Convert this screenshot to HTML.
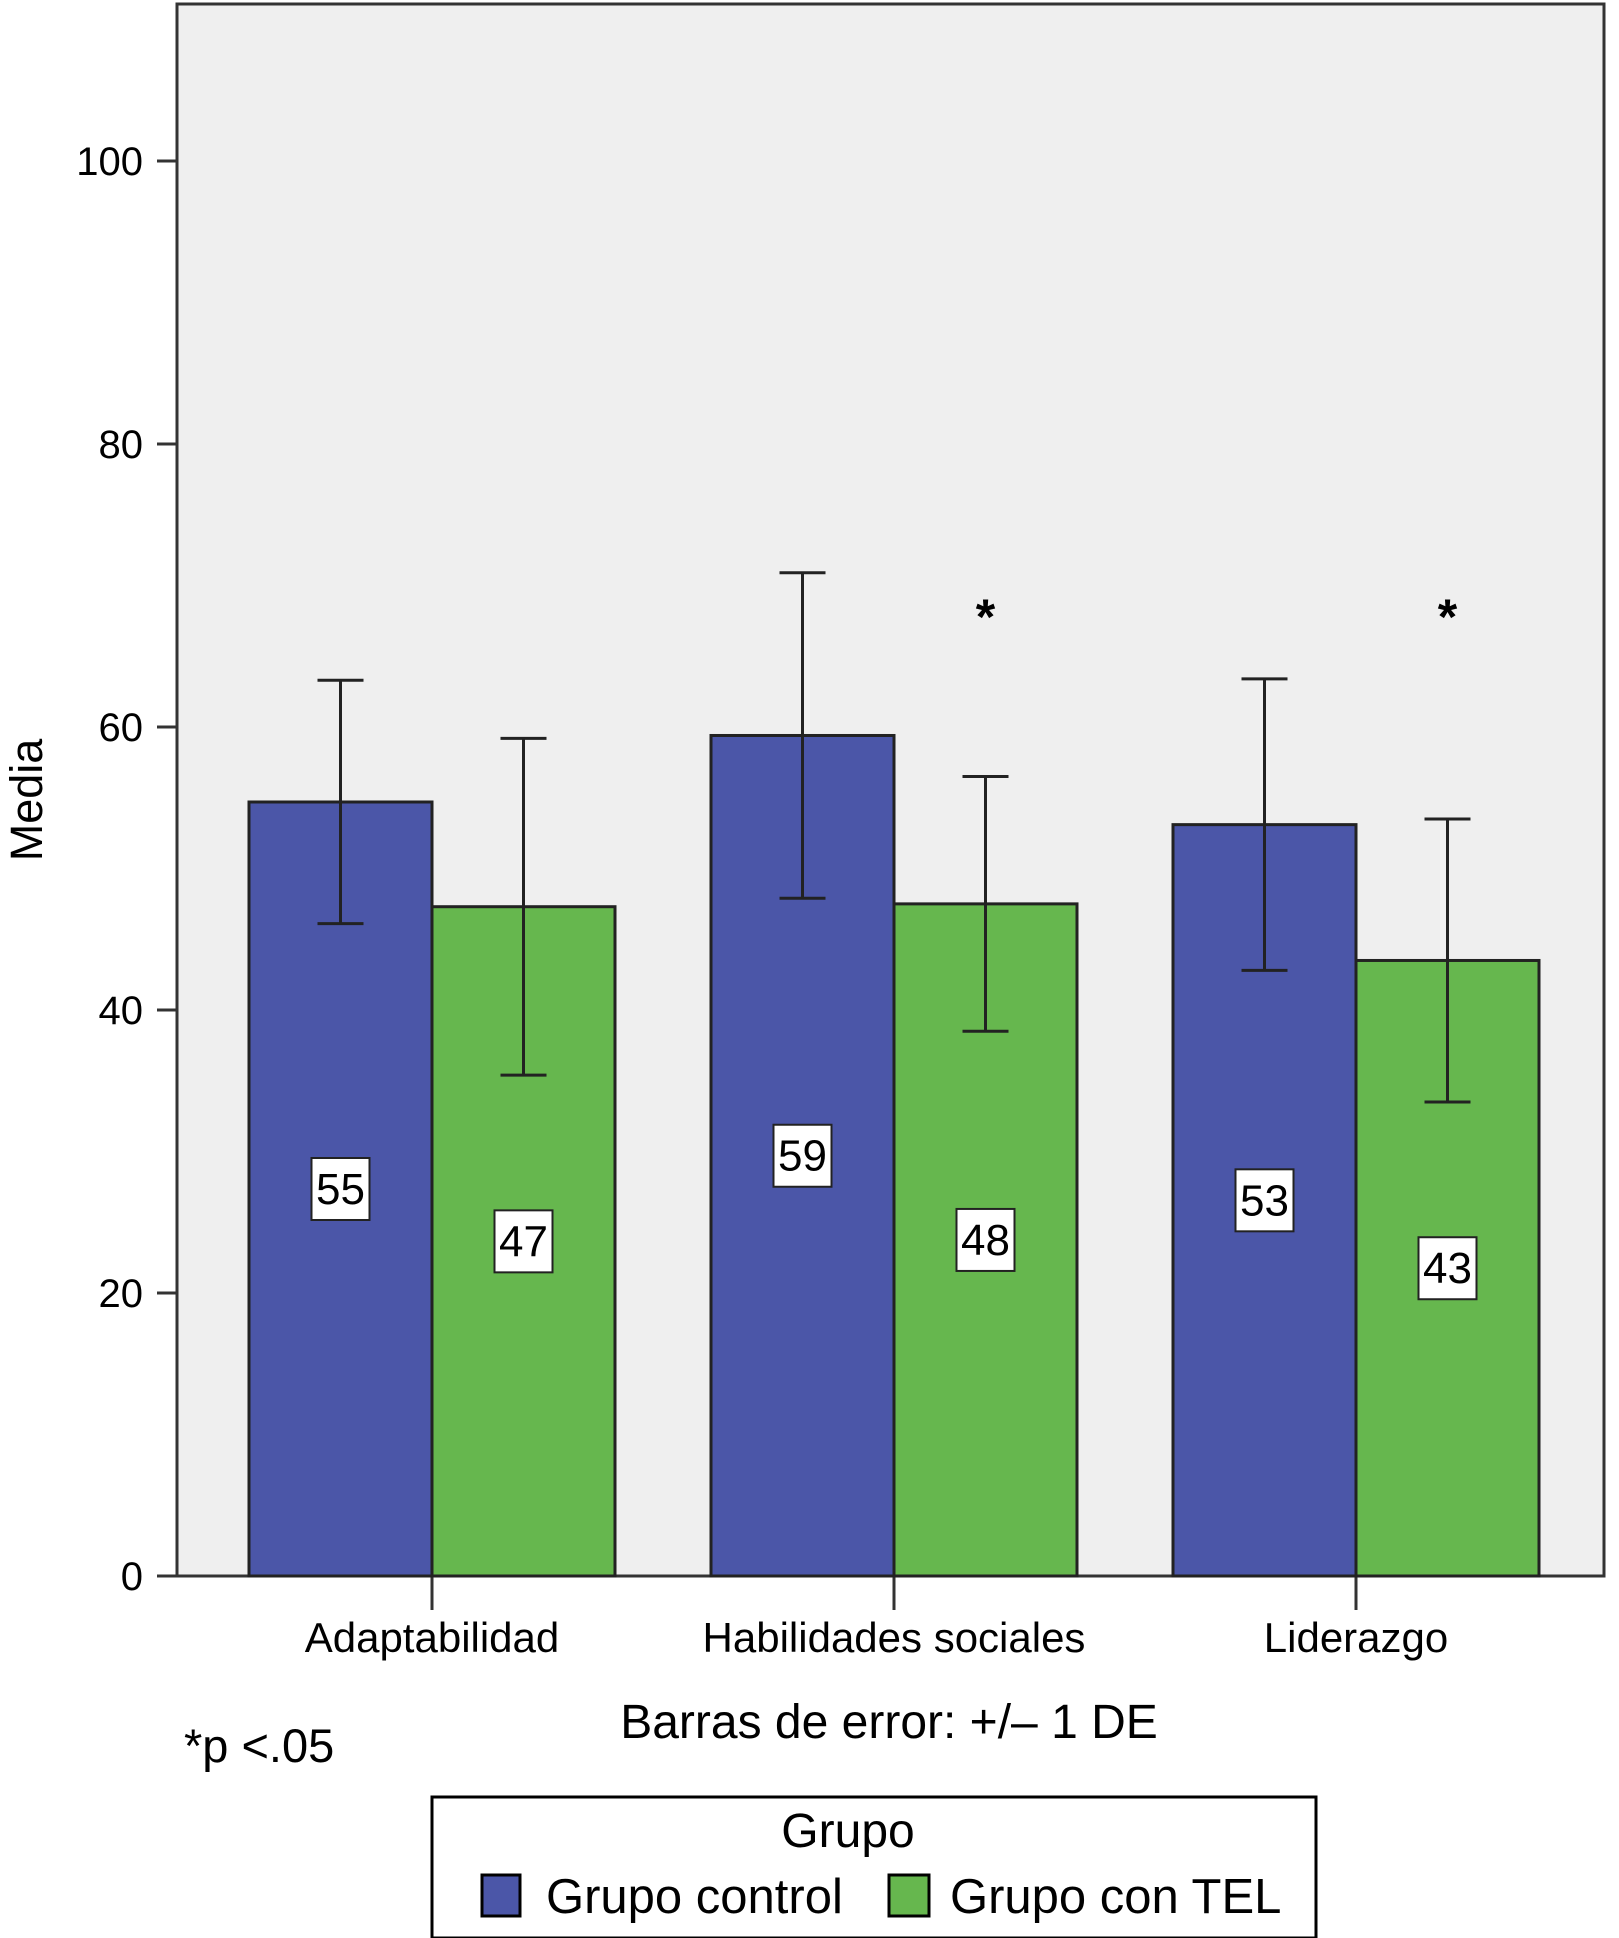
<!DOCTYPE html>
<html><head><meta charset="utf-8"><style>
html,body{margin:0;padding:0;background:#fff;}
svg{display:block;font-family:"Liberation Sans",Arial,sans-serif;}
</style></head><body>
<svg id="chart" width="1619" height="1938" viewBox="0 0 1619 1938">
<rect x="177" y="4" width="1427" height="1572" fill="#efefef" stroke="#333" stroke-width="3"/>
<g id="ticks"></g>
<g id="bars"></g>
<text x="42" y="800" font-size="45" text-anchor="middle" transform="rotate(-90 42 800)">Media</text>
<text x="889" y="1738" font-size="48" text-anchor="middle">Barras de error: +/– 1 DE</text>
<text x="184" y="1762" font-size="47">*p &lt;.05</text>
<g>
<rect x="432" y="1797" width="884" height="141" fill="#fff" stroke="#000" stroke-width="3"/>
<text x="848" y="1847" font-size="48" text-anchor="middle">Grupo</text>
<rect x="482" y="1875" width="38" height="41" fill="#4b56a8" stroke="#000" stroke-width="3"/>
<text x="546" y="1913" font-size="49">Grupo control</text>
<rect x="889" y="1875" width="40" height="41" fill="#66b74e" stroke="#000" stroke-width="3"/>
<text x="950" y="1913" font-size="49">Grupo con TEL</text>
</g>
</svg>
<script>
const categories = ["Adaptabilidad","Habilidades sociales","Liderazgo"];
const controlMeans = [54.7, 59.4, 53.1];
const telMeans = [47.3, 47.5, 43.5];
const controlSD = [8.6, 11.5, 10.3];
const telSD = [11.9, 9.0, 10.0];
const controlLabels = ["55","59","53"];
const telLabels = ["47","48","43"];
const significant = [false, true, true];
const yTicks = [0,20,40,60,80,100];

const NS="http://www.w3.org/2000/svg";
const y0=1576, y100=161;
function yScale(v){return y0-(y0-y100)*v/100;}
const groupStart=432, groupStep=462, barW=183;
function xCenter(i){return groupStart+i*groupStep;}
function mk(tag,attrs,parent){const e=document.createElementNS(NS,tag);for(const k in attrs)e.setAttribute(k,attrs[k]);parent.appendChild(e);return e;}
const tk=document.getElementById('ticks'), bars=document.getElementById('bars');

yTicks.forEach(t=>{
  const y=yScale(t);
  const l=mk('line',{x1:157,x2:177,y1:y,y2:y,stroke:'#333','stroke-width':3},tk);
  
  
  const tx=mk('text',{x:143,y:y+14,'font-size':40,'text-anchor':'end'},tk);
  tx.textContent=t;
  
  
});

categories.forEach((c,i)=>{
  const cx=xCenter(i);
  const series=[[controlMeans[i],controlSD[i],controlLabels[i],'#4b56a8',cx-barW,'control'],[telMeans[i],telSD[i],telLabels[i],'#66b74e',cx,'tel']];
  series.forEach(s=>{
    const [m,sd,lab,col,x,nm]=s;
    const r=mk('rect',{x:x,y:yScale(m),width:barW,height:y0-yScale(m),fill:col,stroke:'#222','stroke-width':3},bars);
    
    
    const ex=x+barW/2;
    const g=mk('g',{stroke:'#222','stroke-width':3},bars);
    
    
    mk('line',{x1:ex,x2:ex,y1:yScale(m+sd),y2:yScale(m-sd)},g);
    mk('line',{x1:ex-23,x2:ex+23,y1:yScale(m+sd),y2:yScale(m+sd)},g);
    mk('line',{x1:ex-23,x2:ex+23,y1:yScale(m-sd),y2:yScale(m-sd)},g);
    const ly=yScale(m/2);
    const b=mk('rect',{x:ex-29,y:ly-31,width:58,height:62,fill:'#fff',stroke:'#222','stroke-width':2},bars);
    
    
    const t=mk('text',{x:ex,y:ly+15,'font-size':44,'text-anchor':'middle'},bars);
    t.textContent=lab;
    
    
  });
  if(significant[i]){
    const st=mk('text',{x:cx+barW/2,y:yScale(68.4)+26,'font-size':50,'text-anchor':'middle','font-weight':'bold'},bars);
    st.textContent='*';
    
    
  }
  const tl=mk('line',{x1:cx,x2:cx,y1:y0,y2:1610,stroke:'#333','stroke-width':3},tk);
  
  
  const ct=mk('text',{x:cx,y:1652,'font-size':42,'text-anchor':'middle'},tk);
  ct.textContent=c;
  
  
});
</script>
</body></html>
